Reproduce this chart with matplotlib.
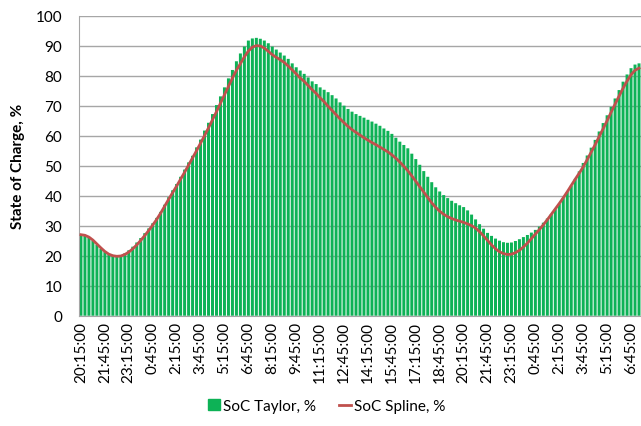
import numpy as np
import matplotlib.pyplot as plt
from matplotlib.lines import Line2D
from matplotlib.patches import Patch

# 15-minute steps starting 20:15
soc_taylor = [27.2, 26.8, 26.1, 25.0, 23.6, 22.3, 21.2, 20.4, 19.9, 19.8,
              20.1, 20.8, 21.8, 23.0, 24.4, 25.9, 27.5, 29.1, 30.8, 32.6,
              34.6, 37.0, 39.5, 41.8, 43.9, 46.3, 48.7, 51.1, 53.3, 56.1,
              58.7, 61.7, 64.3, 67.2, 70.2, 73.1, 76.1, 79.1, 81.9, 84.8,
              87.4, 89.7, 91.7, 92.4, 92.6, 92.3, 91.7, 90.8, 89.7, 88.7,
              87.7, 86.7, 85.6, 84.1, 82.8, 81.7, 80.6, 79.4, 78.1, 77.2,
              76.1, 75.3, 74.5, 73.5, 72.4, 71.1, 70.0, 68.9, 68.0, 67.2,
              66.6, 66.0, 65.3, 64.7, 64.0, 63.3, 62.4, 61.6, 60.6, 59.3,
              58.0, 56.9, 55.8, 54.0, 52.2, 50.3, 48.2, 46.3, 44.5, 42.8,
              41.4, 40.2, 39.2, 38.3, 37.5, 36.8, 36.2, 35.1, 33.7, 32.1,
              30.5, 29.0, 27.6, 26.6, 25.7, 25.0, 24.5, 24.3, 24.4, 24.9,
              25.5, 26.2, 26.9, 27.7, 28.6, 29.7, 31.0, 32.4, 33.9, 35.5,
              37.3, 39.2, 41.2, 43.3, 45.6, 48.1, 50.9, 53.4, 56.0, 58.6,
              61.4, 64.2, 66.8, 69.6, 72.4, 75.2, 78.0, 80.4, 82.5, 83.7,
              84.1]

soc_spline = [27.0, 26.8, 26.2, 25.2, 23.9, 22.6, 21.4, 20.5, 20.0, 19.8,
              19.9, 20.4, 21.2, 22.3, 23.6, 25.1, 26.7, 28.4, 30.2, 32.1,
              34.2, 36.5, 38.8, 41.0, 43.2, 45.5, 47.8, 50.2, 52.6, 55.0,
              57.5, 60.0, 62.6, 65.3, 68.0, 70.8, 73.6, 76.4, 79.2, 81.8,
              84.0, 86.3, 88.2, 89.5, 90.0, 89.9, 89.2, 88.1, 87.0, 86.1,
              85.3, 84.4, 83.2, 81.9, 80.6, 79.2, 78.1, 76.7, 75.3, 74.1,
              72.6, 71.3, 69.8, 68.4, 67.0, 65.6, 64.3, 63.1, 62.0, 61.1,
              60.2, 59.3, 58.5, 57.7, 57.0, 56.2, 55.4, 54.6, 53.6, 52.5,
              51.2, 49.8, 48.3, 46.6, 44.8, 43.0, 41.2, 39.4, 37.6, 36.1,
              34.8, 33.8, 33.0, 32.4, 31.9, 31.5, 31.1, 30.6, 30.0, 29.2,
              28.0, 26.6, 25.1, 23.6, 22.3, 21.3, 20.7, 20.4, 20.5, 21.0,
              21.8, 22.9, 24.2, 25.7, 27.2, 28.7, 30.3, 32.0, 33.8, 35.6,
              37.4, 39.3, 41.3, 43.4, 45.5, 47.5, 49.6, 52.0, 54.5, 57.0,
              59.7, 62.3, 65.0, 67.8, 70.5, 73.2, 75.8, 78.2, 80.3, 81.8,
              82.5]

tick_labels = ['20:15:00', '21:45:00', '23:15:00', '0:45:00', '2:15:00', '3:45:00',
               '5:15:00', '6:45:00', '8:15:00', '9:45:00', '11:15:00', '12:45:00',
               '14:15:00', '15:45:00', '17:15:00', '18:45:00', '20:15:00', '21:45:00',
               '23:15:00', '0:45:00', '2:15:00', '3:45:00', '5:15:00', '6:45:00']

plt.rcParams['font.family'] = ['Lato', 'DejaVu Sans']

x = np.arange(len(soc_taylor))

fig = plt.figure(figsize=(6.41, 4.27), dpi=100)
ax = fig.add_axes([0.1232, 0.2583, 0.8768, 0.7027])

bars = ax.bar(x, soc_taylor, width=0.75, color='#0DB256', zorder=2)
for b in bars:
    b.set_snap(False)
ax.plot(x, soc_spline, color='#C0504D', lw=2, zorder=3)

ax.set_ylim(0, 100)
ax.set_xlim(-0.5, len(x) - 0.5)
ax.set_yticks(range(0, 101, 10))
ax.set_xticks(x[::6])
ax.set_xticklabels(tick_labels, rotation=90, fontsize=11)
ax.tick_params(axis='y', labelsize=11, length=0, pad=12)
ax.tick_params(axis='x', length=0, pad=4)
ax.yaxis.grid(True, color='#A6A6A6', lw=1, zorder=0)
ax.set_axisbelow(True)
for s in ['top', 'right']:
    ax.spines[s].set_visible(False)
ax.spines['left'].set_color('#A6A6A6')
ax.spines['bottom'].set_color('#A6A6A6')
ax.set_ylabel('State of Charge, %', fontsize=11, fontweight='bold', labelpad=8)

handles = [Patch(color='#0DB256', label='SoC Taylor, %'),
           Line2D([0], [0], color='#C0504D', lw=2, label='SoC Spline, %')]
fig.legend(handles=handles, loc='center', bbox_to_anchor=(0.51, 0.047), ncol=2,
           frameon=False, fontsize=11, handlelength=0.8, handletextpad=0.2,
           columnspacing=1.5)

fig.savefig('out.png', dpi=100)
